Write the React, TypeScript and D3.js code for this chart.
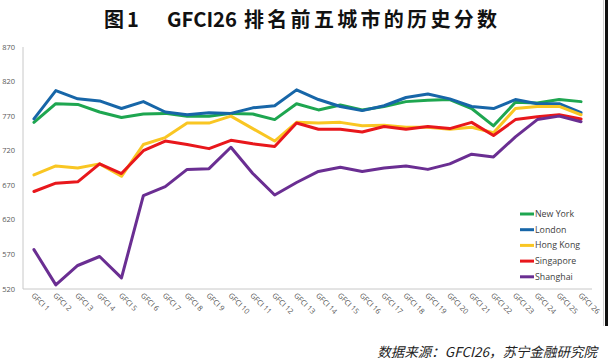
import { useEffect, useRef } from "react";
import * as d3 from "d3";

const WIDTH = 608;
const HEIGHT = 362;

const categories = Array.from({ length: 26 }, (_, i) => `GFCI ${i + 1}`);

const yTicks = [520, 570, 620, 670, 720, 770, 820, 870];

const newYork = [761, 788, 787, 776, 768, 773, 774, 770, 770, 774, 773, 765, 788, 779, 786, 779, 784, 791, 793, 794, 781, 756, 790, 789, 794, 791];
const london = [766, 807, 795, 792, 781, 791, 776, 772, 775, 774, 782, 785, 808, 794, 784, 778, 785, 797, 802, 795, 784, 781, 794, 788, 788, 775];
const hongKong = [685, 698, 695, 701, 683, 729, 739, 760, 760, 770, 752, 734, 761, 760, 761, 756, 757, 754, 754, 751, 754, 746, 781, 784, 784, 772];
const singapore = [661, 673, 675, 701, 687, 720, 734, 729, 723, 735, 730, 726, 760, 751, 751, 747, 755, 751, 755, 752, 761, 742, 765, 769, 772, 766];
const shanghai = [577, 526, 554, 567, 536, 655, 668, 693, 694, 725, 687, 656, 674, 690, 696, 690, 695, 698, 693, 701, 715, 711, 740, 765, 770, 762];

const seriesNames = ["New York", "London", "Hong Kong", "Singapore", "Shanghai"];
const seriesColors = ["#1ea650", "#1766a8", "#f9c623", "#e8171c", "#6a2e92"];
const seriesValues = [newYork, london, hongKong, singapore, shanghai];

export default function App() {
  const svgRef = useRef<SVGSVGElement | null>(null);

  useEffect(() => {
    document.body.style.margin = "0";
    if (!svgRef.current) return;

    const svg = d3.select(svgRef.current);
    svg.selectAll("*").remove();
    svg.attr("width", WIDTH).attr("height", HEIGHT).style("background", "#ffffff");

    const plot = { left: 23, right: 592, top: 47, bottom: 289 };

    const x = d3
      .scalePoint<string>()
      .domain(categories)
      .range([plot.left, plot.right])
      .padding(0.5);
    const y = d3.scaleLinear().domain([520, 870]).range([plot.bottom, plot.top]);

    // title, in three pieces to keep the wide gaps
    const title = svg
      .append("g")
      .attr("font-family", "'Noto Sans CJK SC', sans-serif")
      .attr("font-weight", "bold")
      .attr("font-size", 20)
      .attr("fill", "#111111");
    title.append("text").attr("x", 104).attr("y", 27).text("图");
    title.append("text").attr("x", 127).attr("y", 27).text("1");
    title
      .append("text")
      .attr("x", 167)
      .attr("y", 27)
      .attr("textLength", 70)
      .attr("lengthAdjust", "spacingAndGlyphs")
      .text("GFCI26");
    title
      .append("text")
      .attr("x", 244)
      .attr("y", 27)
      .attr("textLength", 253)
      .attr("lengthAdjust", "spacing")
      .text("排名前五城市的历史分数");

    // axes
    svg
      .append("line")
      .attr("x1", plot.left)
      .attr("x2", plot.left)
      .attr("y1", plot.top)
      .attr("y2", plot.bottom)
      .attr("stroke", "#c8c8c8")
      .attr("stroke-width", 1);
    svg
      .append("line")
      .attr("x1", plot.left)
      .attr("x2", plot.right)
      .attr("y1", plot.bottom)
      .attr("y2", plot.bottom)
      .attr("stroke", "#c8c8c8")
      .attr("stroke-width", 1);

    svg
      .append("g")
      .selectAll("text")
      .data(yTicks)
      .join("text")
      .attr("x", 15)
      .attr("y", (tick) => y(tick))
      .attr("dy", "0.35em")
      .attr("text-anchor", "end")
      .attr("font-family", "'Open Sans', sans-serif")
      .attr("font-size", 7.5)
      .attr("fill", "#595959")
      .text((tick) => String(tick));

    svg
      .append("g")
      .selectAll("text")
      .data(categories)
      .join("text")
      .attr("transform", (c) => `translate(${(x(c) ?? 0) - 3},${plot.bottom + 7}) rotate(45)`)
      .attr("font-family", "'Open Sans', sans-serif")
      .attr("font-size", 7.4)
      .attr("fill", "#505050")
      .text((c) => c);

    // lines
    const line = d3
      .line<number>()
      .x((_, i) => x(categories[i]) ?? 0)
      .y((v) => y(v));

    svg
      .append("g")
      .selectAll("path")
      .data(seriesValues)
      .join("path")
      .attr("d", (values) => line(values))
      .attr("fill", "none")
      .attr("stroke", (_, i) => seriesColors[i])
      .attr("stroke-width", 3)
      .attr("stroke-linejoin", "round")
      .attr("stroke-linecap", "round");

    // legend
    const legend = svg
      .append("g")
      .selectAll("g")
      .data(seriesNames)
      .join("g")
      .attr("transform", (_, i) => `translate(520,${214 + i * 15.7})`);
    legend
      .append("line")
      .attr("x1", 0)
      .attr("x2", 14)
      .attr("stroke", (_, i) => seriesColors[i])
      .attr("stroke-width", 3);
    legend
      .append("text")
      .attr("x", 15)
      .attr("dy", "0.35em")
      .attr("font-family", "'Open Sans', sans-serif")
      .attr("font-size", 8.8)
      .attr("fill", "#404040")
      .text((name) => name);

    // source note
    svg
      .append("text")
      .attr("x", 597)
      .attr("y", 357)
      .attr("text-anchor", "end")
      .attr("font-family", "'Noto Sans CJK SC', sans-serif")
      .attr("font-style", "italic")
      .attr("font-size", 13.5)
      .attr("fill", "#222222")
      .text("数据来源：GFCI26，苏宁金融研究院");

    // scan edge on the right
    svg
      .append("line")
      .attr("x1", 603.5)
      .attr("x2", 603.5)
      .attr("y1", 0)
      .attr("y2", 326)
      .attr("stroke", "#cfcfcf");
    svg
      .append("rect")
      .attr("x", 605)
      .attr("y", 0)
      .attr("width", 3)
      .attr("height", 326)
      .attr("fill", "#111111");
  }, []);

  return (
    <div style={{ position: "absolute", left: 0, top: 0 }}>
      <svg ref={svgRef} style={{ display: "block" }} />
    </div>
  );
}
